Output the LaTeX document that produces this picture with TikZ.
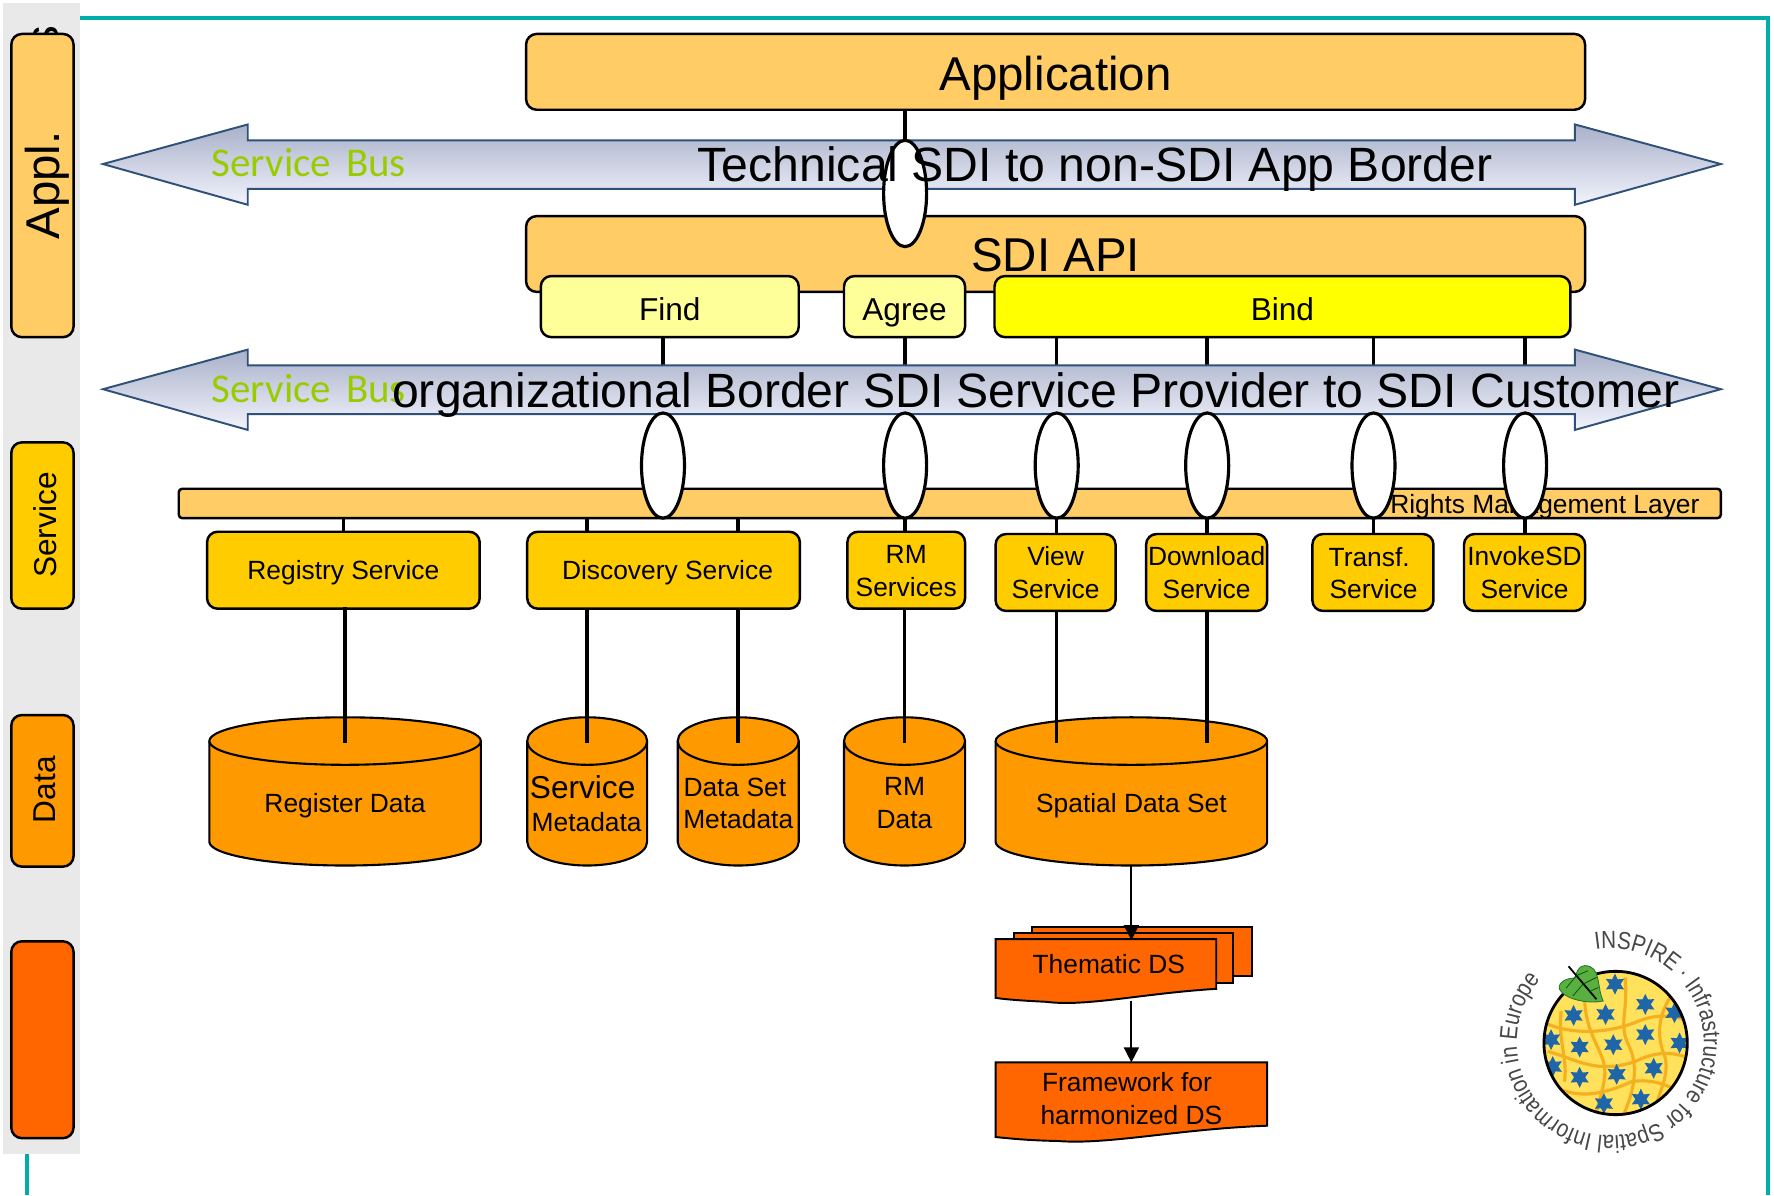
\documentclass[tikz,border=0pt]{standalone}
\usepackage{graphicx}
\usepackage{fontspec}
\setmainfont{Liberation Sans}
\newfontfamily\busfont{Carlito}
\usetikzlibrary{shapes.geometric,arrows.meta}
\definecolor{cAppl}{HTML}{FFCC66}
\definecolor{cServ}{HTML}{FFCC00}
\definecolor{cData}{HTML}{FF9900}
\definecolor{cDs}{HTML}{FF6600}
\definecolor{cFind}{HTML}{FFFF99}
\definecolor{cBind}{HTML}{FFFF00}
\definecolor{cTeal}{HTML}{00ADA9}
\definecolor{cStrip}{HTML}{E9E9E9}
\definecolor{cBusLine}{HTML}{2F5078}
\definecolor{cBusTop}{HTML}{A9B1C9}
\definecolor{cBusBot}{HTML}{F2F3FC}
\definecolor{cGreen}{HTML}{99CC00}
\definecolor{cStarBlue}{HTML}{1F66A8}
\definecolor{cGlobe}{HTML}{FFE15C}
\definecolor{cGrid}{HTML}{F5B020}
\newcommand\fsz[1]{\fontsize{#1}{#1}\selectfont}
\pgfdeclarelayer{bg}
\pgfsetlayers{bg,main}
\tikzset{
  rbox/.style={draw=black,line width=1.4pt,rounded corners=6pt,inner sep=0pt,outer sep=0pt,align=center},
  sideTxt/.style={rotate=90,inner sep=0pt},
  flatbox/.style={draw=black,line width=1.4pt,rounded corners=2pt,inner sep=0pt,outer sep=0pt},
  oval/.style={shape=ellipse,draw=black,fill=white,line width=1.8pt,inner sep=0pt,outer sep=0pt},
  link/.style={draw=black,line width=2pt},
  flow/.style={draw=black,line width=1.1pt,-{Triangle[length=0.3cm,width=0.3cm]}},
  busarrow/.style={draw=cBusLine,line width=1.1pt,top color=cBusTop,bottom color=cBusBot},
  bustxt/.style={font=\busfont\fsz{23.3},text=cGreen,inner sep=0pt},
  bigtxt/.style={font=\fsz{27},inner sep=0pt},
  bordertxt/.style={font=\fsz{27.4},inner sep=0pt},
  midtxt/.style={font=\fontsize{15}{18.6}\selectfont,inner sep=0pt,align=center},
  cylshape/.style={draw=black,line width=1.2pt,fill=cData},
  docshape/.style={draw=black,line width=1.1pt,fill=cDs},
  starmark/.style={shape=star,star points=6,star point ratio=1.9,fill=cStarBlue,inner sep=0pt,minimum size=0.42cm},
  logochar/.style={anchor=base,inner sep=0pt,text=black!72,font=\fsz{14}},
}
\newcommand\bx[7]{%
  \pgfmathsetlengthmacro\bxw{(#5-#3)*0.022628cm}%
  \pgfmathsetlengthmacro\bxh{(#6-#4)*0.022628cm}%
  \node[#2,minimum width=\bxw,minimum height=\bxh] (#1) at ({(#3+#5)/2},{(#4+#6)/2}) {#7};}
% name, x1, x2, top, bottom (ry = 21)
\newcommand\cyl[5]{%
  \pgfmathsetmacro\cm{(#2+#3)/2}%
  \pgfmathsetmacro\crx{(#3-#2)/2}%
  \pgfmathsetmacro\ck{\crx*0.5523}%
  \pgfmathsetmacro\ctm{#4+21}%
  \pgfmathsetmacro\cbm{#5-21}%
  \draw[cylshape] (#2,\ctm) -- (#2,\cbm)
    .. controls (#2,\cbm+11.6) and (\cm-\ck,#5) .. (\cm,#5)
    .. controls (\cm+\ck,#5) and (#3,\cbm+11.6) .. (#3,\cbm) -- (#3,\ctm)
    .. controls (#3,\ctm-11.6) and (\cm+\ck,#4) .. (\cm,#4)
    .. controls (\cm-\ck,#4) and (#2,\ctm-11.6) .. (#2,\ctm) -- cycle;
  \draw[cylshape] (#2,\ctm)
    .. controls (#2,\ctm+11.6) and (\cm-\ck,#4+42) .. (\cm,#4+42)
    .. controls (\cm+\ck,#4+42) and (#3,\ctm+11.6) .. (#3,\ctm);
  \coordinate (#1top) at (\cm,\ctm+2);
  \coordinate (#1bot) at (\cm,#5);}
% y of the bus axis
\newcommand\bus[1]{%
  \path[busarrow] (91,#1) -- (219,#1-35) -- (219,#1-21) -- (1392,#1-21) -- (1392,#1-35)
    -- (1521,#1) -- (1392,#1+36) -- (1392,#1+22) -- (219,#1+22) -- (219,#1+36) -- cycle;}
\begin{document}
\begin{tikzpicture}[x=0.022628cm,y=-0.022628cm]
\useasboundingbox (0,0) rectangle (1568,1056.25);
\begin{pgfonlayer}{bg}
  \fill[white] (0,0) rectangle (1568,1056.25);
\end{pgfonlayer}
% frame and strip
\draw[cTeal,line width=2.2pt] (60,16) -- (1563,16) -- (1563,1056.25);
\draw[cTeal,line width=2.2pt] (23.5,1010) -- (23.5,1056.25);
\fill[cStrip] (3,3) rectangle (71,1020);
% side boxes
\node[sideTxt,font=\fsz{27}] (stray) at (41,33) {s};
\bx{sAppl}{rbox,fill=cAppl}{10}{30}{65}{298}{}
\node[sideTxt,font=\fsz{27}] (sApplT) at (42,164) {Appl.};
\bx{sServ}{rbox,fill=cServ}{10}{391}{65}{538}{}
\node[sideTxt,font=\fsz{18}] (sServT) at (40,464) {Service};
\bx{sData}{rbox,fill=cData}{10}{632}{65}{766}{}
\node[sideTxt,font=\fsz{18}] (sDataT) at (40,698) {Data};
\bx{sDs}{rbox,fill=cDs}{10}{832}{65}{1006}{}
% top blocks
\bx{app}{rbox,fill=cAppl}{465}{30}{1401}{97}{}
\node[bigtxt] (appT) at (933,69) {Application};
\bus{145}
\node[bustxt] (bus1T) at (273,144) {Service\hspace{0.14em} Bus};
\bx{api}{rbox,fill=cAppl}{465}{191}{1401}{258}{}
\node[bigtxt] (apiT) at (933,225.5) {SDI API};
\bx{ovApi}{oval}{781}{124}{819}{218}{}
\node[bordertxt] (techT) at (968,149) {Technical SDI to non-SDI App Border};
\bx{find}{rbox,fill=cFind,font=\fsz{18}}{478}{244}{706}{298}{\raisebox{-1.3pt}[\height][\depth]{Find}}
\bx{agree}{rbox,fill=cFind,font=\fsz{18}}{746}{244}{853}{298}{\raisebox{-3.8pt}[\height][\depth]{Agree}}
\bx{bind}{rbox,fill=cBind,font=\fsz{18}}{879}{244}{1388}{298}{\raisebox{-1.3pt}[\height][\depth]{Bind}}
\bus{344}
\node[bustxt] (bus2T) at (273,343) {Service\hspace{0.14em} Bus};
% rights layer
\bx{bar}{flatbox,fill=cAppl}{158}{432}{1521}{458}{}
\node[midtxt] (barT) at (1365.5,448) {Rights Management Layer};
% ovals
\bx{ovA}{oval}{567}{365}{605}{458}{}
\bx{ovB}{oval}{781}{365}{819}{458}{}
\bx{ovC}{oval}{915}{365}{953}{458}{}
\bx{ovD}{oval}{1048}{365}{1086}{458}{}
\bx{ovE}{oval}{1195}{365}{1233}{458}{}
\bx{ovF}{oval}{1329}{365}{1367}{458}{}
\node[bordertxt] (orgT) at (915.5,349) {organizational Border SDI Service Provider to SDI Customer};
% services
\tikzset{svc/.style={rbox,fill=cServ,font=\fontsize{15}{18.6}\selectfont}}
\bx{reg}{svc}{183}{470}{424}{538}{\raisebox{-1.3pt}[\height][\depth]{Registry Service}}
\bx{disc}{svc}{466}{470}{707}{538}{}
\node[midtxt] (discT) at (590,506) {Discovery Service};
\bx{rm}{svc}{749}{470}{853}{538}{}
\node[midtxt] (rmT) at (801,505) {RM\\Services};
\bx{view}{svc}{880}{472}{986}{540}{View\\Service}
\bx{down}{svc}{1013}{472}{1120}{540}{Download\\Service}
\bx{trans}{svc}{1160}{472}{1267}{540}{}
\node[midtxt] (transT) at (1212.5,506.5) {\hspace*{-3pt}Transf.\\\hspace*{2pt}Service};
\bx{inv}{svc}{1294}{472}{1401}{540}{InvokeSD\\Service}
% cylinders
\cyl{cReg}{185}{425}{634}{765}
\cyl{cSm}{466}{572}{634}{765}
\cyl{cDm}{599}{706}{634}{765}
\cyl{cRm}{746}{853}{634}{765}
\cyl{cSp}{880}{1120}{634}{765}
\node[midtxt] (cRegT) at (305,712) {Register Data};
\node[inner sep=0pt,font=\fsz{18}] (cSmT1) at (515,696) {Service};
\node[midtxt] (cSmT2) at (518.5,727) {Metadata};
\node[midtxt] (cDmT1) at (649.5,696) {Data Set};
\node[midtxt] (cDmT2) at (652.5,724) {Metadata};
\node[midtxt] (cRmT) at (799.5,710) {RM\\Data};
\node[midtxt] (cSpT) at (1000,712) {Spatial Data Set};
% lines landing on cylinders
\draw[link] (reg.south) -- (reg.south -| cRegtop) -- (cRegtop);
\draw[link] (disc.south -| cSmtop) -- (cSmtop);
\draw[link] (disc.south -| cDmtop) -- (cDmtop);
\draw[link] (rm.south -| cRmtop) -- (cRmtop);
\draw[link] (view.south -| ovC) -- (ovC |- cSptop);
\draw[link] (down.south -| ovD) -- (ovD |- cSptop);
% documents
\draw[docshape] (912,819) -- (1107,819) -- (1107,863) -- (912,863) -- cycle;
\draw[docshape] (896,825) -- (1090,825) -- (1090,869) -- (896,869) -- cycle;
\draw[docshape] (880,830) -- (1075,830) -- (1075,874)
  .. controls (1010,878) and (960,890) .. (925,885.5)
  .. controls (905,884.5) and (890,883.5) .. (880,882) -- cycle;
\node[midtxt] (thmT) at (980,852) {Thematic DS};
\draw[docshape] (880,939) -- (1120,939) -- (1120,995)
  .. controls (1040,998) and (980,1012) .. (935,1008.5)
  .. controls (910,1008) and (895,1006.5) .. (880,1005) -- cycle;
\node[midtxt] (fwT) at (1000,971) {\hspace*{-5pt}Framework for\\harmonized DS};
\coordinate (thmIn) at (cSpbot |- 0,831);
\coordinate (thmOut) at (cSpbot |- 0,885);
\coordinate (fwIn) at (cSpbot |- 0,939);
\draw[flow] (cSpbot) -- (thmIn);
\draw[flow] (thmOut) -- (fwIn);
% connectors behind the buses
\begin{pgfonlayer}{bg}
  \draw[link] (app.south -| ovApi) -- (ovApi.north);
  \draw[link] (find.south -| ovA) -- (ovA.north);
  \draw[link] (agree.south -| ovB) -- (ovB.north);
  \draw[link] (bind.south -| ovC) -- (ovC.north);
  \draw[link] (bind.south -| ovD) -- (ovD.north);
  \draw[link] (bind.south -| ovE) -- (ovE.north);
  \draw[link] (bind.south -| ovF) -- (ovF.north);
  \draw[link] (bar.south -| reg) -- (reg.north);
  \draw[link] (bar.south -| cSmtop) -- (disc.north -| cSmtop);
  \draw[link] (bar.south -| cDmtop) -- (disc.north -| cDmtop);
  \draw[link] (ovB.south) -- (rm.north -| ovB);
  \draw[link] (ovC.south) -- (view.north -| ovC);
  \draw[link] (ovD.south) -- (down.north -| ovD);
  \draw[link] (ovE.south) -- (trans.north -| ovE);
  \draw[link] (ovF.south) -- (inv.north -| ovF);
\end{pgfonlayer}
% logo, in the coordinates of a 3x crop
\begin{scope}[shift={(1272.8,795.5)},x=0.006734cm,y=-0.006734cm]
  \begin{scope}
    \clip (309,425) .. controls (309,307) and (404,212) .. (522,212)
      .. controls (640,212) and (735,307) .. (735,425)
      .. controls (735,543) and (640,638) .. (522,638)
      .. controls (404,638) and (309,543) .. (309,425) -- cycle;
    \fill[cGlobe] (300,200) rectangle (745,650);
    \begin{scope}[draw=cGrid,line width=1.8pt]
      \draw (300,360) .. controls (400,410) and (520,390) .. (590,360) .. controls (640,340) and (690,340) .. (740,360);
      \draw (320,450) .. controls (400,470) and (460,520) .. (580,480) .. controls (640,450) and (690,450) .. (740,470);
      \draw (330,550) .. controls (420,600) and (500,570) .. (570,540) .. controls (630,530) and (680,550) .. (730,580);
      \draw (430,290) .. controls (430,400) and (490,450) .. (490,510) .. controls (490,560) and (470,590) .. (465,640);
      \draw (550,230) .. controls (560,330) and (530,370) .. (560,430) .. controls (590,490) and (580,560) .. (545,640);
      \draw (690,280) .. controls (650,340) and (640,400) .. (670,470) .. controls (680,530) and (650,570) .. (640,620);
      \draw (360,330) .. controls (350,420) and (380,470) .. (370,540);
    \end{scope}
    \foreach \sx/\sy [count=\si] in {520/250,610/310,697/335,397/343,492/340,610/400,712/425,330/415,415/437,515/430,635/500,335/495,415/527,525/518,487/605,597/592}
      \node[starmark] (lgs\si) at (\sx,\sy) {};
  \end{scope}
  \draw[black,line width=1.6pt] (309,425) .. controls (309,307) and (404,212) .. (522,212)
      .. controls (640,212) and (735,307) .. (735,425)
      .. controls (735,543) and (640,638) .. (522,638)
      .. controls (404,638) and (309,543) .. (309,425) -- cycle;
  \draw[draw={rgb,255:red,40;green,120;blue,40},fill={rgb,255:red,90;green,175;blue,65},line width=0.5pt]
    (485,300) .. controls (465,260) and (480,195) .. (430,195)
    .. controls (410,195) and (405,220) .. (400,232)
    .. controls (375,232) and (350,245) .. (355,265)
    .. controls (370,295) and (440,310) .. (485,300) -- cycle;
  \draw[black,line width=1pt] (382,197) -- (465,295);
  \draw[black!70!green,line width=0.4pt] (405,225) -- (375,262) (425,250) -- (395,285) (405,225) -- (440,210) (425,250) -- (465,230) (445,272) -- (470,260);
  \foreach \lch/\lwd [count=\ci, remember=\lgn as \lga (initially 99)] in {
      I/.278,N/.722,S/.667,P/.667,I/.278,R/.722,E/.667,{~}/.278,·/.278,{~}/.278,
      I/.278,n/.556,f/.278,r/.333,a/.556,s/.5,t/.278,r/.333,u/.556,c/.5,t/.278,u/.556,r/.333,e/.556,{~}/.278,
      f/.278,o/.556,r/.333,{~}/.278,
      S/.667,p/.556,a/.556,t/.278,i/.222,a/.556,l/.222,{~}/.278,
      I/.278,n/.556,f/.278,o/.556,r/.333,m/.833,a/.556,t/.278,i/.222,o/.556,n/.556,{~}/.278,
      i/.222,n/.556,{~}/.278,
      E/.667,u/.556,r/.333,o/.556,p/.556,e/.556}{
    \pgfmathsetmacro\lgd{\lwd*12.666}
    \pgfmathsetmacro\lgm{\lga-\lgd/2}
    \pgfmathsetmacro\lgr{\lgm-90}
    \node[logochar,rotate=\lgr] (lgc\ci) at ({506+278*cos(\lgm)},{423-278*sin(\lgm)}) {\scalebox{0.84}[1]{\lch}};
    \pgfmathsetmacro\lgn{\lga-\lgd}
  }
\end{scope}
\end{tikzpicture}
\end{document}
